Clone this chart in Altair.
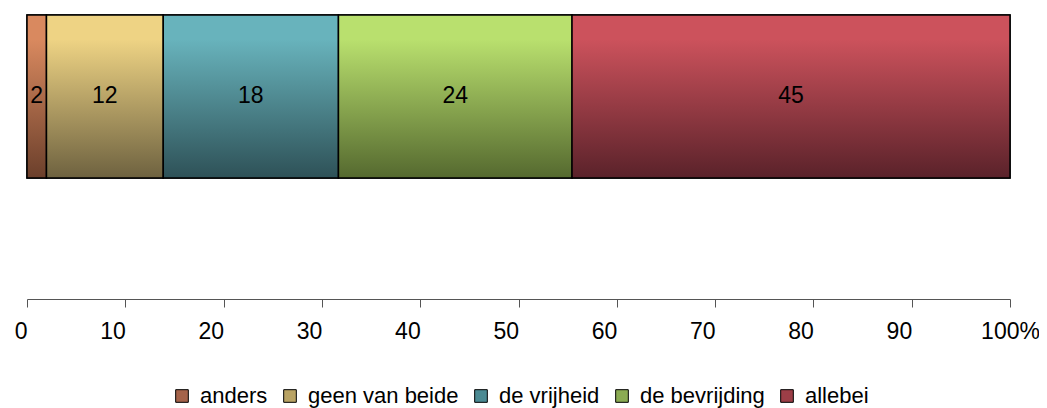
import altair as alt
import pandas as pd

categories = ["anders", "geen van beide", "de vrijheid", "de bevrijding", "allebei"]
values = [2, 12, 18, 24, 45]
top_colors = ["#d9895f", "#eed384", "#68b3bc", "#b9e06e", "#cc525c"]
bottom_colors = ["#6b3f2b", "#6e6240", "#2e5157", "#55692f", "#5a222a"]
mid_colors = ["#a5634a", "#b9a364", "#4b8a93", "#8bab53", "#9c3e47"]
tick_values = [0, 10, 20, 30, 40, 50, 60, 70, 80, 90, 100]

df = pd.DataFrame({"cat": categories, "value": values, "order": list(range(len(categories)))})

FONT = "Liberation Sans"
FS = 23

x_scale = alt.Scale(domain=[0, 100], nice=False, zero=False)
y_scale = alt.Scale(paddingInner=0, paddingOuter=0.3712, align=0)


def base():
    return (
        alt.Chart(df)
        .transform_window(cum="sum(value)", sort=[{"field": "order"}], frame=[None, 0])
        .transform_joinaggregate(total="sum(value)")
        .transform_calculate(
            x0="(datum.cum - datum.value) / datum.total * 100",
            x1="datum.cum / datum.total * 100",
            xm="(datum.cum - datum.value / 2) / datum.total * 100",
            row="'r'",
        )
    )


x_axis = alt.Axis(
    values=tick_values,
    labelExpr="datum.value == 100 ? '100%' : datum.label",
    labelAlign={"condition": {"test": "datum.value == 100", "value": "center"}, "value": "right"},
    labelFlush=False,
    labelFont=FONT,
    labelFontSize=FS,
    labelColor="#000000",
    labelPadding=13,
    tickSize=8,
    tickColor="#555555",
    domainColor="#555555",
    grid=False,
    title=None,
)

legend_layer = base().mark_bar(stroke="#000000", strokeWidth=1.5).encode(
    x=alt.X("x0:Q", scale=x_scale, axis=x_axis),
    x2="x1:Q",
    y=alt.Y("row:N", scale=y_scale, axis=None),
    color=alt.Color(
        "cat:N",
        scale=alt.Scale(domain=categories, range=mid_colors),
        sort=categories,
        legend=alt.Legend(
            orient="none",
            legendX=144,
            legendY=370,
            direction="horizontal",
            title=None,
            symbolType="square",
            symbolSize=160,
            symbolStrokeColor="#000000",
            symbolStrokeWidth=1,
            symbolOpacity=1,
            labelFont=FONT,
            labelFontSize=22,
            labelColor="#000000",
            labelOffset=7,
            columnPadding=11,
        ),
    ),
)

layers = [legend_layer]
for c, t, b in zip(categories, top_colors, bottom_colors):
    grad = alt.Gradient(
        gradient="linear",
        stops=[
            alt.GradientStop(color=t, offset=0),
            alt.GradientStop(color=t, offset=0.15),
            alt.GradientStop(color=b, offset=1),
        ],
        x1=0, x2=0, y1=0, y2=1,
    )
    layers.append(
        base()
        .transform_filter(alt.datum.cat == c)
        .mark_bar(fill=grad, stroke="#000000", strokeWidth=1.5)
        .encode(
            x=alt.X("x0:Q", scale=x_scale),
            x2="x1:Q",
            y=alt.Y("row:N", scale=y_scale, axis=None),
        )
    )

text_layer = base().mark_text(font=FONT, fontSize=FS, color="#000000", baseline="middle").encode(
    x=alt.X("xm:Q", scale=x_scale),
    y=alt.Y("row:N", scale=y_scale, axis=None),
    text="value:Q",
)
layers.append(text_layer)

chart = (
    alt.layer(*layers)
    .properties(
        width=983,
        height=284,
        autosize=alt.AutoSizeParams(type="none"),
        padding={"left": 19, "top": 7, "right": 29, "bottom": 109},
    )
    .configure_view(stroke=None)
)

chart.save("out.html", embed_options={"renderer": "svg", "actions": False})
